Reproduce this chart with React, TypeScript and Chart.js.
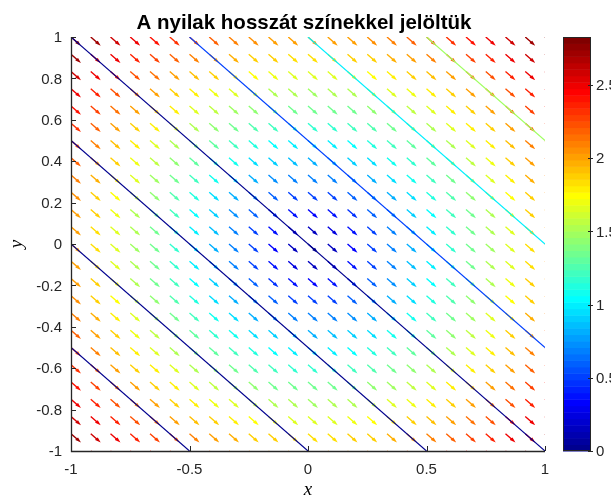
import { useEffect, useRef } from "react";
import { Chart, registerables } from "chart.js";

Chart.register(...registerables);

// ---------- data ----------
const TITLE = "A nyilak hosszát színekkel jelöltük";
const X_LABEL = "x";
const Y_LABEL = "y";

// arrow grid (columns left->right, rows top->bottom)
const GRID_X = [-1, -0.9167, -0.8333, -0.75, -0.6667, -0.5833, -0.5, -0.4167, -0.3333, -0.25, -0.1667, -0.0833, 0, 0.0833, 0.1667, 0.25, 0.3333, 0.4167, 0.5, 0.5833, 0.6667, 0.75, 0.8333, 0.9167, 1];
const GRID_Y = [1, 0.9167, 0.8333, 0.75, 0.6667, 0.5833, 0.5, 0.4167, 0.3333, 0.25, 0.1667, 0.0833, 0, -0.0833, -0.1667, -0.25, -0.3333, -0.4167, -0.5, -0.5833, -0.6667, -0.75, -0.8333, -0.9167, -1];

// arrow length (shown by colour), one row per GRID_Y value
const ARROW_MAGNITUDES: number[][] = [
  [2.83, 2.71, 2.60, 2.50, 2.40, 2.32, 2.24, 2.17, 2.11, 2.06, 2.03, 2.01, 2.00, 2.01, 2.03, 2.06, 2.11, 2.17, 2.24, 2.32, 2.40, 2.50, 2.60, 2.71, 2.83],
  [2.71, 2.59, 2.48, 2.37, 2.27, 2.17, 2.09, 2.01, 1.95, 1.90, 1.86, 1.84, 1.83, 1.84, 1.86, 1.90, 1.95, 2.01, 2.09, 2.17, 2.27, 2.37, 2.48, 2.59, 2.71],
  [2.60, 2.48, 2.36, 2.24, 2.13, 2.03, 1.94, 1.86, 1.80, 1.74, 1.70, 1.67, 1.67, 1.67, 1.70, 1.74, 1.80, 1.86, 1.94, 2.03, 2.13, 2.24, 2.36, 2.48, 2.60],
  [2.50, 2.37, 2.24, 2.12, 2.01, 1.90, 1.80, 1.72, 1.64, 1.58, 1.54, 1.51, 1.50, 1.51, 1.54, 1.58, 1.64, 1.72, 1.80, 1.90, 2.01, 2.12, 2.24, 2.37, 2.50],
  [2.40, 2.27, 2.13, 2.01, 1.89, 1.77, 1.67, 1.57, 1.49, 1.42, 1.37, 1.34, 1.33, 1.34, 1.37, 1.42, 1.49, 1.57, 1.67, 1.77, 1.89, 2.01, 2.13, 2.27, 2.40],
  [2.32, 2.17, 2.03, 1.90, 1.77, 1.65, 1.54, 1.43, 1.34, 1.27, 1.21, 1.18, 1.17, 1.18, 1.21, 1.27, 1.34, 1.43, 1.54, 1.65, 1.77, 1.90, 2.03, 2.17, 2.32],
  [2.24, 2.09, 1.94, 1.80, 1.67, 1.54, 1.41, 1.30, 1.20, 1.12, 1.05, 1.01, 1.00, 1.01, 1.05, 1.12, 1.20, 1.30, 1.41, 1.54, 1.67, 1.80, 1.94, 2.09, 2.24],
  [2.17, 2.01, 1.86, 1.72, 1.57, 1.43, 1.30, 1.18, 1.07, 0.97, 0.90, 0.85, 0.83, 0.85, 0.90, 0.97, 1.07, 1.18, 1.30, 1.43, 1.57, 1.72, 1.86, 2.01, 2.17],
  [2.11, 1.95, 1.80, 1.64, 1.49, 1.34, 1.20, 1.07, 0.94, 0.83, 0.75, 0.69, 0.67, 0.69, 0.75, 0.83, 0.94, 1.07, 1.20, 1.34, 1.49, 1.64, 1.80, 1.95, 2.11],
  [2.06, 1.90, 1.74, 1.58, 1.42, 1.27, 1.12, 0.97, 0.83, 0.71, 0.60, 0.53, 0.50, 0.53, 0.60, 0.71, 0.83, 0.97, 1.12, 1.27, 1.42, 1.58, 1.74, 1.90, 2.06],
  [2.03, 1.86, 1.70, 1.54, 1.37, 1.21, 1.05, 0.90, 0.75, 0.60, 0.47, 0.37, 0.33, 0.37, 0.47, 0.60, 0.75, 0.90, 1.05, 1.21, 1.37, 1.54, 1.70, 1.86, 2.03],
  [2.01, 1.84, 1.67, 1.51, 1.34, 1.18, 1.01, 0.85, 0.69, 0.53, 0.37, 0.24, 0.17, 0.24, 0.37, 0.53, 0.69, 0.85, 1.01, 1.18, 1.34, 1.51, 1.67, 1.84, 2.01],
  [2.00, 1.83, 1.67, 1.50, 1.33, 1.17, 1.00, 0.83, 0.67, 0.50, 0.33, 0.17, 0.00, 0.17, 0.33, 0.50, 0.67, 0.83, 1.00, 1.17, 1.33, 1.50, 1.67, 1.83, 2.00],
  [2.01, 1.84, 1.67, 1.51, 1.34, 1.18, 1.01, 0.85, 0.69, 0.53, 0.37, 0.24, 0.17, 0.24, 0.37, 0.53, 0.69, 0.85, 1.01, 1.18, 1.34, 1.51, 1.67, 1.84, 2.01],
  [2.03, 1.86, 1.70, 1.54, 1.37, 1.21, 1.05, 0.90, 0.75, 0.60, 0.47, 0.37, 0.33, 0.37, 0.47, 0.60, 0.75, 0.90, 1.05, 1.21, 1.37, 1.54, 1.70, 1.86, 2.03],
  [2.06, 1.90, 1.74, 1.58, 1.42, 1.27, 1.12, 0.97, 0.83, 0.71, 0.60, 0.53, 0.50, 0.53, 0.60, 0.71, 0.83, 0.97, 1.12, 1.27, 1.42, 1.58, 1.74, 1.90, 2.06],
  [2.11, 1.95, 1.80, 1.64, 1.49, 1.34, 1.20, 1.07, 0.94, 0.83, 0.75, 0.69, 0.67, 0.69, 0.75, 0.83, 0.94, 1.07, 1.20, 1.34, 1.49, 1.64, 1.80, 1.95, 2.11],
  [2.17, 2.01, 1.86, 1.72, 1.57, 1.43, 1.30, 1.18, 1.07, 0.97, 0.90, 0.85, 0.83, 0.85, 0.90, 0.97, 1.07, 1.18, 1.30, 1.43, 1.57, 1.72, 1.86, 2.01, 2.17],
  [2.24, 2.09, 1.94, 1.80, 1.67, 1.54, 1.41, 1.30, 1.20, 1.12, 1.05, 1.01, 1.00, 1.01, 1.05, 1.12, 1.20, 1.30, 1.41, 1.54, 1.67, 1.80, 1.94, 2.09, 2.24],
  [2.32, 2.17, 2.03, 1.90, 1.77, 1.65, 1.54, 1.43, 1.34, 1.27, 1.21, 1.18, 1.17, 1.18, 1.21, 1.27, 1.34, 1.43, 1.54, 1.65, 1.77, 1.90, 2.03, 2.17, 2.32],
  [2.40, 2.27, 2.13, 2.01, 1.89, 1.77, 1.67, 1.57, 1.49, 1.42, 1.37, 1.34, 1.33, 1.34, 1.37, 1.42, 1.49, 1.57, 1.67, 1.77, 1.89, 2.01, 2.13, 2.27, 2.40],
  [2.50, 2.37, 2.24, 2.12, 2.01, 1.90, 1.80, 1.72, 1.64, 1.58, 1.54, 1.51, 1.50, 1.51, 1.54, 1.58, 1.64, 1.72, 1.80, 1.90, 2.01, 2.12, 2.24, 2.37, 2.50],
  [2.60, 2.48, 2.36, 2.24, 2.13, 2.03, 1.94, 1.86, 1.80, 1.74, 1.70, 1.67, 1.67, 1.67, 1.70, 1.74, 1.80, 1.86, 1.94, 2.03, 2.13, 2.24, 2.36, 2.48, 2.60],
  [2.71, 2.59, 2.48, 2.37, 2.27, 2.17, 2.09, 2.01, 1.95, 1.90, 1.86, 1.84, 1.83, 1.84, 1.86, 1.90, 1.95, 2.01, 2.09, 2.17, 2.27, 2.37, 2.48, 2.59, 2.71],
  [2.83, 2.71, 2.60, 2.50, 2.40, 2.32, 2.24, 2.17, 2.11, 2.06, 2.03, 2.01, 2.00, 2.01, 2.03, 2.06, 2.11, 2.17, 2.24, 2.32, 2.40, 2.50, 2.60, 2.71, 2.83],
];

// every arrow has the same direction and drawn length (data units)
const ARROW_U = 0.035;
const ARROW_V = -0.035;

// level lines x + y = c
const CONTOUR_LEVELS = [-1.5, -1, -0.5, 0, 0.5, 1, 1.5];

const X_TICKS = [-1, -0.5, 0, 0.5, 1];
const X_TICK_LABELS = ["-1", "-0.5", "0", "0.5", "1"];
const Y_TICKS = [-1, -0.8, -0.6, -0.4, -0.2, 0, 0.2, 0.4, 0.6, 0.8, 1];
const Y_TICK_LABELS = ["-1", "-0.8", "-0.6", "-0.4", "-0.2", "0", "0.2", "0.4", "0.6", "0.8", "1"];
const CBAR_TICKS = [0, 0.5, 1, 1.5, 2, 2.5];
const CBAR_TICK_LABELS = ["0", "0.5", "1", "1.5", "2", "2.5"];
const COLOR_MIN = 0;
const COLOR_MAX = 2.8284;

// ---------- styles ----------
const W = 611;
const H = 498;
const AREA = { left: 71, right: 545, top: 37, bottom: 451 };
const CBAR = { left: 563, right: 591 };
const N_COLORS = 64;
const HEAD_ALPHA = 0.33;
const HEAD_BETA = 0.33;
const AXIS_COLOR = "#262626";
const SANS = '"Liberation Sans", Arial, sans-serif';
const SERIF = '"Liberation Serif", "DejaVu Serif", serif';

function jetU(k: number): number {
  if (k < 1 || k > 47) return 0;
  if (k <= 16) return k / 16;
  if (k <= 31) return 1;
  return (48 - k) / 16;
}
function jet(i: number): string {
  const r = jetU(i - 24), g = jetU(i - 8), b = jetU(i + 8);
  return `rgb(${Math.round(r * 255)},${Math.round(g * 255)},${Math.round(b * 255)})`;
}
function colorIndex(v: number): number {
  const t = (v - COLOR_MIN) / (COLOR_MAX - COLOR_MIN);
  return Math.max(1, Math.min(N_COLORS, Math.floor(t * N_COLORS) + 1));
}

type P = { x: number; y: number };
const GAP: P = { x: NaN, y: NaN };

function buildDatasets() {
  const groups = new Map<number, P[]>();
  GRID_Y.forEach((y, r) => {
    GRID_X.forEach((x, c) => {
      const idx = colorIndex(ARROW_MAGNITUDES[r][c]);
      const tip = { x: x + ARROW_U, y: y + ARROW_V };
      const hA = { x: tip.x - HEAD_ALPHA * (ARROW_U + HEAD_BETA * ARROW_V), y: tip.y - HEAD_ALPHA * (ARROW_V - HEAD_BETA * ARROW_U) };
      const hB = { x: tip.x - HEAD_ALPHA * (ARROW_U - HEAD_BETA * ARROW_V), y: tip.y - HEAD_ALPHA * (ARROW_V + HEAD_BETA * ARROW_U) };
      if (!groups.has(idx)) groups.set(idx, []);
      groups.get(idx)!.push({ x, y }, tip, GAP, hA, { ...tip }, hB, GAP);
    });
  });
  const datasets: any[] = [];
  // level lines first in the list: drawn last, i.e. on top of the arrows
  CONTOUR_LEVELS.forEach((c) => {
    const pts = c <= 0 ? [{ x: -1, y: c + 1 }, { x: c + 1, y: -1 }] : [{ x: c - 1, y: 1 }, { x: 1, y: c - 1 }];
    datasets.push({
      data: pts,
      showLine: true,
      borderColor: jet(colorIndex(c)),
      borderWidth: 1.15,
      pointRadius: 0,
      order: 0,
    });
  });
  groups.forEach((pts, idx) => {
    datasets.push({
      data: pts,
      showLine: true,
      spanGaps: false,
      borderColor: jet(idx),
      borderWidth: 1.4,
      pointRadius: 0,
      order: 1,
    });
  });
  return datasets;
}

const overlay = {
  id: "overlay",
  afterDraw(chart: any) {
    const ctx: CanvasRenderingContext2D = chart.ctx;
    const xs = chart.scales.x;
    const ys = chart.scales.y;
    const { left, right, top, bottom } = chart.chartArea;
    ctx.save();
    // axes lines
    ctx.strokeStyle = AXIS_COLOR;
    ctx.lineWidth = 1.3;
    ctx.beginPath();
    ctx.moveTo(left + 0.5, top);
    ctx.lineTo(left + 0.5, bottom + 0.5);
    ctx.lineTo(right, bottom + 0.5);
    ctx.stroke();
    // ticks (inward)
    ctx.lineWidth = 1;
    ctx.beginPath();
    Y_TICKS.forEach((v) => {
      const py = Math.round(ys.getPixelForValue(v)) + 0.5;
      ctx.moveTo(left, py);
      ctx.lineTo(left + 5, py);
    });
    X_TICKS.forEach((v) => {
      const px = Math.round(xs.getPixelForValue(v)) + 0.5;
      ctx.moveTo(px, bottom);
      ctx.lineTo(px, bottom - 5);
    });
    ctx.stroke();
    // tick labels
    ctx.fillStyle = AXIS_COLOR;
    ctx.font = `15px ${SANS}`;
    ctx.textAlign = "right";
    ctx.textBaseline = "middle";
    Y_TICKS.forEach((v, i) => ctx.fillText(Y_TICK_LABELS[i], left - 9, ys.getPixelForValue(v) + 1));
    ctx.textAlign = "center";
    ctx.textBaseline = "top";
    X_TICKS.forEach((v, i) => ctx.fillText(X_TICK_LABELS[i], xs.getPixelForValue(v), bottom + 11));
    // axis labels
    ctx.fillStyle = "#000";
    ctx.font = `italic 19px ${SERIF}`;
    ctx.textAlign = "center";
    ctx.textBaseline = "alphabetic";
    ctx.fillText(X_LABEL, (left + right) / 2, 495);
    ctx.save();
    ctx.translate(22, (top + bottom) / 2);
    ctx.rotate(-Math.PI / 2);
    ctx.fillText(Y_LABEL, 0, 0);
    ctx.restore();
    // title
    ctx.font = `bold 20.5px ${SANS}`;
    ctx.fillStyle = "#000";
    ctx.textAlign = "center";
    ctx.fillText(TITLE, 304, 29);
    // colorbar
    const cbH = bottom - top;
    for (let i = 1; i <= N_COLORS; i++) {
      const y0 = bottom - (i / N_COLORS) * cbH;
      const y1 = bottom - ((i - 1) / N_COLORS) * cbH;
      ctx.fillStyle = jet(i);
      ctx.fillRect(CBAR.left, y0, CBAR.right - CBAR.left, y1 - y0 + 0.5);
    }
    ctx.strokeStyle = AXIS_COLOR;
    ctx.lineWidth = 1;
    ctx.strokeRect(CBAR.left + 0.5, top + 0.5, CBAR.right - CBAR.left - 1, cbH - 1);
    ctx.fillStyle = AXIS_COLOR;
    ctx.font = `15px ${SANS}`;
    ctx.textAlign = "left";
    ctx.textBaseline = "middle";
    ctx.beginPath();
    CBAR_TICKS.forEach((v, i) => {
      const py = bottom - ((v - COLOR_MIN) / (COLOR_MAX - COLOR_MIN)) * cbH;
      ctx.moveTo(CBAR.right - 3, Math.round(py) + 0.5);
      ctx.lineTo(CBAR.right + 2, Math.round(py) + 0.5);
      ctx.fillText(CBAR_TICK_LABELS[i], CBAR.right + 5, py + 1);
    });
    ctx.stroke();
    ctx.restore();
  },
};

export default function App() {
  const ref = useRef<HTMLCanvasElement | null>(null);
  useEffect(() => {
    if (!ref.current) return;
    const chart = new Chart(ref.current, {
      type: "scatter",
      data: { datasets: buildDatasets() },
      options: {
        responsive: false,
        animation: false,
        devicePixelRatio: 1,
        events: [],
        layout: { padding: { left: AREA.left, right: W - AREA.right, top: AREA.top, bottom: H - AREA.bottom } },
        scales: {
          x: { type: "linear", min: -1, max: 1, display: false },
          y: { type: "linear", min: -1, max: 1, display: false },
        },
        plugins: { legend: { display: false }, tooltip: { enabled: false }, title: { display: false } },
        elements: { line: { tension: 0 }, point: { radius: 0 } },
      } as any,
      plugins: [overlay],
    });
    return () => chart.destroy();
  }, []);
  return (
    <div style={{ position: "absolute", left: 0, top: 0, width: W, height: H, background: "#fff" }}>
      <canvas ref={ref} width={W} height={H} style={{ display: "block", width: W, height: H }} />
    </div>
  );
}
